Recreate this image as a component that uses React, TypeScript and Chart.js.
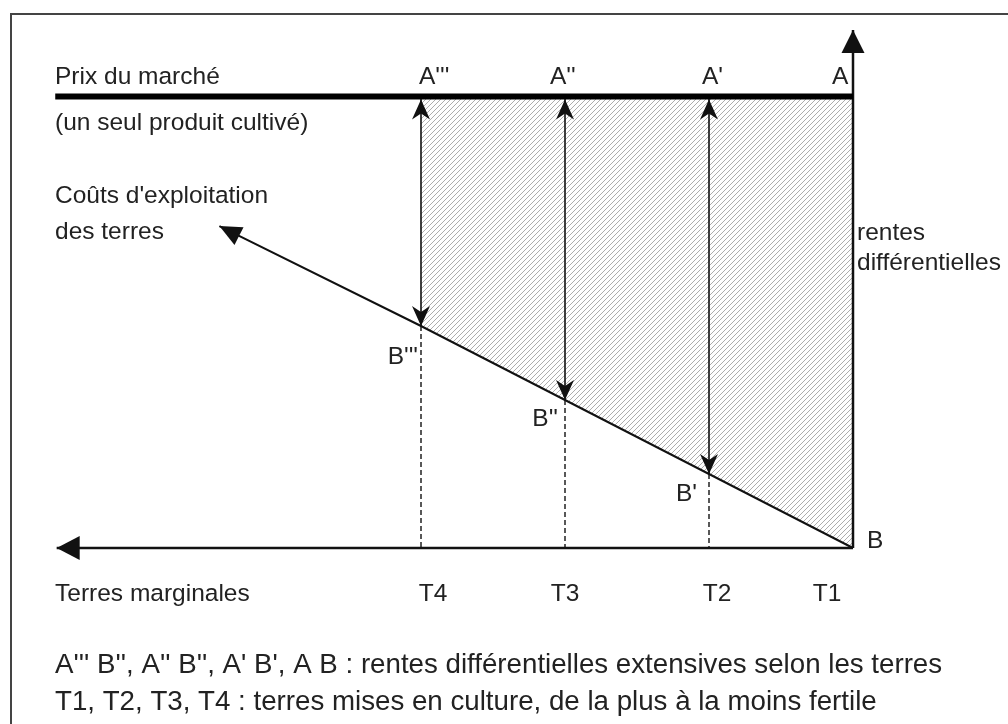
import { useEffect, useRef } from 'react';
import { Chart, registerables } from 'chart.js';

Chart.register(...registerables);

// ---- Data ----
const LANDS = ['T1', 'T2', 'T3', 'T4'];
const LAND_POS = [0, 1, 2, 3];
const MARKET_PRICE = 6.1;
const COSTS = [0, 1, 2, 3];
const TOP_LABELS = ['A', "A'", "A''", "A'''"];
const BOTTOM_LABELS = ['B', "B'", "B''", "B'''"];
const COST_LINE_TIP = { x: 4.4, y: 4.35 };
const X_AXIS_TIP = 5.53;
const Y_AXIS_TIP = 7.0;
const PRICE_LINE_LEFT = 5.54;
const MARGINAL_LABEL = 'Terres marginales';
const PRICE_LABEL = ['Prix du marché', '(un seul produit cultivé)'];
const COST_LABEL = ["Coûts d'exploitation", 'des terres'];
const RENT_LABEL = ['rentes', 'différentielles'];
const NOTES = [
  "A''' B'', A'' B'', A' B', A B : rentes différentielles extensives selon les terres",
  'T1, T2, T3, T4 : terres mises en culture, de la plus à la moins fertile',
];

// ---- Style / layout ----
const W = 1008;
const H = 724;
const FONT = '"Liberation Sans", Arial, Helvetica, sans-serif';
const FS = 24.5;
const NOTE_FS = 27.7;
const INK = '#111';
const TEXT = '#222';
const A_DX = [-21, -7, -15, -2];
const B_OFF = [
  { dx: 14, dy: -7, align: 'left' },
  { dx: -12, dy: 20, align: 'right' },
  { dx: -7, dy: 19, align: 'right' },
  { dx: -3, dy: 31, align: 'right' },
];
const T_DX = [-26, 8, 0, 12];

function makeHatch(): CanvasPattern | string {
  const s = 5;
  const c = document.createElement('canvas');
  c.width = s;
  c.height = s;
  const g = c.getContext('2d');
  if (!g) return '#ddd';
  g.clearRect(0, 0, s, s);
  g.strokeStyle = '#adadad';
  g.lineWidth = 1;
  g.beginPath();
  g.moveTo(0, s);
  g.lineTo(s, 0);
  g.moveTo(-1, 1);
  g.lineTo(1, -1);
  g.moveTo(s - 1, s + 1);
  g.lineTo(s + 1, s - 1);
  g.stroke();
  const p = g.createPattern(c, 'repeat');
  return p || '#ddd';
}

function arrowHead(
  ctx: CanvasRenderingContext2D,
  tx: number,
  ty: number,
  ang: number,
  len: number,
  hw: number,
  notch: number
) {
  const cos = Math.cos(ang);
  const sin = Math.sin(ang);
  const bx = tx - cos * len;
  const by = ty - sin * len;
  const nx = -sin;
  const ny = cos;
  const mx = tx - cos * (len - notch);
  const my = ty - sin * (len - notch);
  ctx.beginPath();
  ctx.moveTo(tx, ty);
  ctx.lineTo(bx + nx * hw, by + ny * hw);
  ctx.lineTo(mx, my);
  ctx.lineTo(bx - nx * hw, by - ny * hw);
  ctx.closePath();
  ctx.fillStyle = INK;
  ctx.fill();
}

export default function App() {
  const ref = useRef<HTMLCanvasElement | null>(null);

  useEffect(() => {
    const canvas = ref.current;
    if (!canvas) return;
    const hatch = makeHatch();
    const n = LANDS.length;
    const lastPos = LAND_POS[n - 1];
    const lastCost = COSTS[n - 1];

    const datasets: any[] = [
      {
        label: 'price',
        data: [
          { x: LAND_POS[0], y: MARKET_PRICE },
          { x: PRICE_LINE_LEFT, y: MARKET_PRICE },
        ],
        borderWidth: 6,
        borderColor: '#000',
        fill: false,
        pointRadius: 0,
      },
      {
        label: 'yAxis',
        data: [
          { x: LAND_POS[0], y: 0 },
          { x: LAND_POS[0], y: Y_AXIS_TIP },
        ],
        borderWidth: 2.5,
        borderColor: INK,
        fill: false,
        pointRadius: 0,
      },
      {
        label: 'xAxis',
        data: [
          { x: LAND_POS[0], y: 0 },
          { x: X_AXIS_TIP, y: 0 },
        ],
        borderWidth: 2.5,
        borderColor: INK,
        fill: false,
        pointRadius: 0,
      },
      {
        label: 'cost',
        data: [{ x: LAND_POS[0], y: COSTS[0] }, { x: lastPos, y: lastCost }, COST_LINE_TIP],
        borderWidth: 2,
        borderColor: INK,
        fill: false,
        pointRadius: 0,
      },
      {
        label: 'rents',
        data: LAND_POS.slice(1).flatMap((x, j) => [
          { x, y: MARKET_PRICE },
          { x, y: COSTS[j + 1] },
          { x: NaN, y: NaN },
        ]),
        borderWidth: 1.6,
        borderColor: INK,
        fill: false,
        pointRadius: 0,
        spanGaps: false,
      },
      {
        label: 'dashes',
        data: LAND_POS.slice(1).flatMap((x, j) => [
          { x, y: COSTS[j + 1] },
          { x, y: 0 },
          { x: NaN, y: NaN },
        ]),
        borderWidth: 1.5,
        borderColor: '#222',
        borderDash: [5, 3],
        fill: false,
        pointRadius: 0,
        spanGaps: false,
      },
      {
        label: 'hatchTop',
        data: [
          { x: LAND_POS[0], y: MARKET_PRICE },
          { x: lastPos, y: MARKET_PRICE },
        ],
        borderWidth: 0,
        borderColor: 'rgba(0,0,0,0)',
        backgroundColor: hatch,
        fill: '+1',
        pointRadius: 0,
      },
      {
        label: 'hatchBottom',
        data: LAND_POS.map((x, i) => ({ x, y: COSTS[i] })),
        borderWidth: 0,
        borderColor: 'rgba(0,0,0,0)',
        fill: false,
        pointRadius: 0,
      },
    ];

    const decor = {
      id: 'decor',
      beforeDraw(chart: any) {
        const ctx = chart.ctx as CanvasRenderingContext2D;
        ctx.save();
        ctx.fillStyle = '#fff';
        ctx.fillRect(0, 0, W, H);
        ctx.strokeStyle = '#444';
        ctx.lineWidth = 2;
        ctx.beginPath();
        ctx.moveTo(11, H);
        ctx.lineTo(11, 14);
        ctx.lineTo(W, 14);
        ctx.stroke();
        ctx.restore();
      },
      afterDatasetsDraw(chart: any) {
        const ctx = chart.ctx as CanvasRenderingContext2D;
        const xs = chart.scales.x;
        const ys = chart.scales.y;
        const px = (v: number) => xs.getPixelForValue(v);
        const py = (v: number) => ys.getPixelForValue(v);
        ctx.save();
        const priceY = py(MARKET_PRICE);
        for (let i = 1; i < n; i++) {
          const x = px(LAND_POS[i]);
          arrowHead(ctx, x, priceY + 3, -Math.PI / 2, 20, 9, 6);
          arrowHead(ctx, x, py(COSTS[i]), Math.PI / 2, 20, 9, 6);
        }
        arrowHead(ctx, px(LAND_POS[0]), py(Y_AXIS_TIP), -Math.PI / 2, 23, 11.5, 0);
        arrowHead(ctx, px(X_AXIS_TIP), py(0), Math.PI, 23, 12, 0);
        const tx = px(COST_LINE_TIP.x);
        const ty = py(COST_LINE_TIP.y);
        const ang = Math.atan2(ty - py(COSTS[0]), tx - px(LAND_POS[0]));
        arrowHead(ctx, tx, ty, ang, 22, 10, 0);

        ctx.fillStyle = TEXT;
        ctx.textBaseline = 'middle';
        ctx.font = `${FS}px ${FONT}`;
        ctx.textAlign = 'left';
        for (let i = 0; i < n; i++) {
          ctx.fillText(TOP_LABELS[i], px(LAND_POS[i]) + A_DX[i], 77);
        }
        for (let i = 0; i < n; i++) {
          const o = B_OFF[i];
          ctx.textAlign = o.align as CanvasTextAlign;
          ctx.fillText(BOTTOM_LABELS[i], px(LAND_POS[i]) + o.dx, py(COSTS[i]) + o.dy);
        }
        ctx.textAlign = 'center';
        for (let i = 0; i < n; i++) {
          ctx.fillText(LANDS[i], px(LAND_POS[i]) + T_DX[i], 594);
        }
        ctx.textAlign = 'left';
        ctx.fillText(MARGINAL_LABEL, 55, 594);
        ctx.fillText(PRICE_LABEL[0], 55, 77);
        ctx.fillText(PRICE_LABEL[1], 55, 123);
        ctx.fillText(COST_LABEL[0], 55, 196);
        ctx.fillText(COST_LABEL[1], 55, 232);
        ctx.fillText(RENT_LABEL[0], px(LAND_POS[0]) + 4, 233);
        ctx.fillText(RENT_LABEL[1], px(LAND_POS[0]) + 4, 263);
        ctx.font = `${NOTE_FS}px ${FONT}`;
        ctx.fillText(NOTES[0], 55, 665);
        ctx.fillText(NOTES[1], 55, 702);
        ctx.restore();
      },
    };

    const chart = new Chart(canvas, {
      type: 'line',
      data: { datasets },
      options: {
        animation: false,
        responsive: false,
        devicePixelRatio: 1,
        layout: { padding: 0 },
        plugins: {
          legend: { display: false },
          tooltip: { enabled: false },
        },
        elements: { line: { tension: 0, borderCapStyle: 'butt' } },
        scales: {
          x: {
            type: 'linear',
            reverse: true,
            display: false,
            min: -155 / 144,
            max: 853 / 144,
          },
          y: {
            type: 'linear',
            display: false,
            min: (548 - H) / 74,
            max: 548 / 74,
          },
        },
      },
      plugins: [decor],
    });
    return () => chart.destroy();
  }, []);

  return (
    <div style={{ position: 'fixed', left: 0, top: 0, width: W, height: H, background: '#fff' }}>
      <canvas ref={ref} width={W} height={H} style={{ display: 'block', width: W, height: H }} />
    </div>
  );
}
